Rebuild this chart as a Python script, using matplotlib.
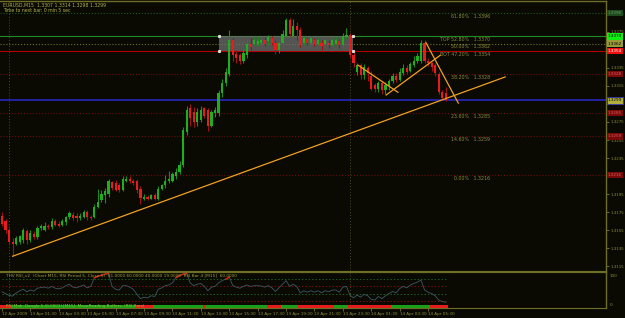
import matplotlib

matplotlib.use("Agg")
import matplotlib.pyplot as plt
import matplotlib.transforms as mtransforms
import numpy as np

# EURUSD M15, 12 Apr 23:30 -> 14 Apr 06:45
opens = [1.3171, 1.3165, 1.3155, 1.3142, 1.3140, 1.3142, 1.3144, 1.3154, 1.3144, 1.3151,
         1.3147, 1.3157, 1.3155, 1.3160, 1.3158, 1.3165, 1.3162, 1.3161, 1.3164, 1.3169,
         1.3172, 1.3171, 1.3168, 1.3170, 1.3175, 1.3170, 1.3170, 1.3181, 1.3188, 1.3194,
         1.3195, 1.3208, 1.3207, 1.3205, 1.3200, 1.3210, 1.3212, 1.3210, 1.3210, 1.3201,
         1.3190, 1.3192, 1.3190, 1.3194, 1.3190, 1.3201, 1.3205, 1.3209, 1.3210, 1.3215,
         1.3219, 1.3227, 1.3264, 1.3290, 1.3286, 1.3275, 1.3277, 1.3290, 1.3288, 1.3271,
         1.3285, 1.3285, 1.3307, 1.3318, 1.3328, 1.3366, 1.3350, 1.3349, 1.3343, 1.3349,
         1.3362, 1.3362, 1.3362, 1.3363, 1.3366, 1.3365, 1.3368, 1.3363, 1.3355, 1.3363,
         1.3371, 1.3388, 1.3371, 1.3382, 1.3377, 1.3363, 1.3367, 1.3363, 1.3366, 1.3362,
         1.3363, 1.3362, 1.3363, 1.3361, 1.3362, 1.3365, 1.3360, 1.3369, 1.3372, 1.3349,
         1.3330, 1.3338, 1.3327, 1.3335, 1.3326, 1.3316, 1.3312, 1.3318, 1.3310, 1.3315,
         1.3321, 1.3326, 1.3322, 1.3329, 1.3335, 1.3332, 1.3338, 1.3343, 1.3343, 1.3363,
         1.3343, 1.3340, 1.3338, 1.3328, 1.3308, 1.3307]
highs = [1.3175, 1.3167, 1.3157, 1.3146, 1.3148, 1.3150, 1.3157, 1.3156, 1.3155, 1.3154,
         1.3160, 1.3162, 1.3164, 1.3162, 1.3168, 1.3167, 1.3165, 1.3167, 1.3171, 1.3176,
         1.3175, 1.3174, 1.3174, 1.3177, 1.3177, 1.3172, 1.3184, 1.3201, 1.3199, 1.3202,
         1.3212, 1.3210, 1.3211, 1.3207, 1.3215, 1.3215, 1.3215, 1.3212, 1.3212, 1.3204,
         1.3195, 1.3194, 1.3195, 1.3196, 1.3204, 1.3206, 1.3216, 1.3221, 1.3219, 1.3224,
         1.3232, 1.3269, 1.3293, 1.3295, 1.3292, 1.3290, 1.3293, 1.3292, 1.3290, 1.3288,
         1.3292, 1.3310, 1.3323, 1.3335, 1.3377, 1.3368, 1.3355, 1.3352, 1.3357, 1.3366,
         1.3368, 1.3369, 1.3370, 1.3368, 1.3369, 1.3372, 1.3370, 1.3366, 1.3366, 1.3377,
         1.3390, 1.3390, 1.3389, 1.3386, 1.3380, 1.3370, 1.3369, 1.3370, 1.3368, 1.3368,
         1.3366, 1.3368, 1.3366, 1.3368, 1.3369, 1.3367, 1.3374, 1.3379, 1.3374, 1.3355,
         1.3341, 1.3341, 1.3339, 1.3337, 1.3332, 1.3318, 1.3321, 1.3321, 1.3319, 1.3323,
         1.3329, 1.3329, 1.3335, 1.3339, 1.3338, 1.3342, 1.3348, 1.3352, 1.3366, 1.3366,
         1.3346, 1.3342, 1.3341, 1.3330, 1.3310, 1.3314]
lows = [1.3160, 1.3152, 1.3140, 1.3126, 1.3138, 1.3140, 1.3141, 1.3140, 1.3142, 1.3145,
        1.3145, 1.3155, 1.3154, 1.3156, 1.3156, 1.3159, 1.3158, 1.3159, 1.3161, 1.3167,
        1.3166, 1.3164, 1.3166, 1.3168, 1.3166, 1.3166, 1.3168, 1.3179, 1.3186, 1.3185,
        1.3192, 1.3200, 1.3198, 1.3197, 1.3198, 1.3208, 1.3207, 1.3205, 1.3196, 1.3184,
        1.3188, 1.3188, 1.3189, 1.3188, 1.3188, 1.3199, 1.3202, 1.3207, 1.3208, 1.3212,
        1.3217, 1.3225, 1.3261, 1.3271, 1.3269, 1.3271, 1.3275, 1.3279, 1.3265, 1.3269,
        1.3281, 1.3282, 1.3303, 1.3315, 1.3326, 1.3343, 1.3341, 1.3339, 1.3341, 1.3346,
        1.3355, 1.3360, 1.3359, 1.3360, 1.3359, 1.3361, 1.3360, 1.3351, 1.3352, 1.3361,
        1.3369, 1.3371, 1.3368, 1.3366, 1.3358, 1.3360, 1.3360, 1.3361, 1.3359, 1.3360,
        1.3355, 1.3359, 1.3357, 1.3359, 1.3360, 1.3357, 1.3358, 1.3367, 1.3347, 1.3336,
        1.3327, 1.3323, 1.3323, 1.3321, 1.3311, 1.3308, 1.3308, 1.3306, 1.3306, 1.3310,
        1.3318, 1.3319, 1.3320, 1.3327, 1.3328, 1.3330, 1.3336, 1.3341, 1.3341, 1.3341,
        1.3337, 1.3332, 1.3326, 1.3306, 1.3299, 1.3298]
closes = [1.3162, 1.3155, 1.3142, 1.3140, 1.3146, 1.3148, 1.3155, 1.3144, 1.3152, 1.3147,
          1.3157, 1.3160, 1.3160, 1.3158, 1.3165, 1.3161, 1.3160, 1.3165, 1.3169, 1.3174,
          1.3168, 1.3168, 1.3171, 1.3175, 1.3169, 1.3168, 1.3181, 1.3186, 1.3195, 1.3198,
          1.3209, 1.3202, 1.3200, 1.3200, 1.3212, 1.3212, 1.3209, 1.3207, 1.3199, 1.3191,
          1.3192, 1.3190, 1.3194, 1.3190, 1.3201, 1.3205, 1.3210, 1.3212, 1.3217, 1.3220,
          1.3227, 1.3266, 1.3288, 1.3279, 1.3275, 1.3286, 1.3288, 1.3282, 1.3271, 1.3286,
          1.3288, 1.3307, 1.3318, 1.3330, 1.3366, 1.3349, 1.3346, 1.3343, 1.3352, 1.3362,
          1.3358, 1.3366, 1.3365, 1.3366, 1.3362, 1.3369, 1.3363, 1.3355, 1.3363, 1.3373,
          1.3388, 1.3373, 1.3382, 1.3377, 1.3360, 1.3368, 1.3363, 1.3368, 1.3362, 1.3366,
          1.3359, 1.3366, 1.3361, 1.3366, 1.3366, 1.3360, 1.3371, 1.3372, 1.3349, 1.3340,
          1.3338, 1.3327, 1.3336, 1.3329, 1.3312, 1.3312, 1.3318, 1.3310, 1.3316, 1.3321,
          1.3326, 1.3322, 1.3330, 1.3335, 1.3331, 1.3339, 1.3343, 1.3348, 1.3363, 1.3343,
          1.3340, 1.3336, 1.3329, 1.3308, 1.3302, 1.3299]

rsi = [45, 40, 35, 33, 42, 48, 52, 45, 50, 47, 55, 57, 58, 55, 60, 55, 53,
       56, 62, 66, 58, 56, 60, 64, 56, 60, 84, 88, 91, 94, 96, 60, 52, 50, 62, 62,
       58, 52, 38, 26, 30, 28, 34, 32, 52, 56, 62, 64, 70, 84, 90,
       94, 96, 70, 62, 66, 68, 60, 48, 58, 60, 70, 76, 80, 86,
       62, 58, 55, 60, 64, 60, 62, 62, 61, 58, 62, 56, 46, 56, 66,
       76, 60, 66, 60, 42, 48, 44, 48, 44, 48, 42, 48, 45,
       50, 50, 44, 58, 60, 36, 28, 36, 30, 38, 34, 24,
       22, 32, 26, 34, 40, 46, 42, 54, 60, 56, 64, 68, 72,
       78, 50, 44, 40, 34, 22, 18, 16]
rsi_levels = [81, 60, 40, 19]
rsi_level_colors = ["#1e5e1e", "#7a0c0c", "#1e5e1e", "#7a0c0c"]

# direction bar under the RSI: (colour, number of bars)
signal_runs = [("r", 3), ("g", 35), ("r", 5), ("g", 14), ("r", 1), ("g", 17), ("r", 4),
               ("g", 5), ("r", 10), ("g", 4), ("r", 12), ("g", 11), ("r", 5)]

# fibo levels
fib_names = ["61.80%", "TOP 52.80%", "50.00%", "BOT 47.20%", "38.20%", "23.60%", "14.60%", "0.00%"]
fib_prices = [1.3396, 1.3370, 1.3362, 1.3354, 1.3328, 1.3285, 1.3259, 1.3216]
fib_colors = ["#1e5a1e", "#1f8a1f", "#6e6e2a", "#b00000", "#6a0c0c", "#6a0c0c", "#6a0c0c", "#6a0c0c"]
fib_styles = [":", "-", ":", "-", ":", ":", ":", ":"]
tag_colors = ["#1e4a1e", "#10f010", "#9a9a3a", "#f01010", "#7a0a0a", "#7a0a0a", "#7a0a0a", "#7a0a0a"]
tag_text = ["#6a9a6a", "#000000", "#000000", "#ffffff", "#d06060", "#d06060", "#d06060", "#d06060"]

bid = 1.3299
box_bars = [61.1, 98.9]
box_prices = [1.3354, 1.3370]

# trend lines: (bar0, price0, bar1, price1)
trend_lines = [(3.0, 1.3126, 141.7, 1.3325),
               (100.3, 1.3338, 111.5, 1.3308),
               (108.2, 1.3305, 123.4, 1.3349),
               (119.4, 1.3363, 128.5, 1.3296)]

price_ticks = [1.3115, 1.3135, 1.3155, 1.3175, 1.3195, 1.3215, 1.3235, 1.3255,
               1.3275, 1.3295, 1.3315, 1.3335, 1.3355, 1.3375, 1.3395]
time_tick_bars = [0, 8, 16, 24, 32, 40, 48, 56, 64, 72, 80, 88, 96, 104, 112, 120]
time_labels = ["12 Apr 2009", "13 Apr 01:30", "13 Apr 03:30", "13 Apr 05:30", "13 Apr 07:30",
               "13 Apr 09:30", "13 Apr 11:30", "13 Apr 13:30", "13 Apr 15:30", "13 Apr 17:30",
               "13 Apr 19:30", "13 Apr 21:30", "13 Apr 23:30", "14 Apr 01:30", "14 Apr 03:30",
               "14 Apr 05:30"]
day_separators = [2, 98]

BG = "#0a0a02"
OLIVE = "#8e8e3a"
UP, DOWN = "#1fae1f", "#e81c1c"
UP_W, DOWN_W = "#1a8a1a", "#a01212"

fig = plt.figure(figsize=(6.25, 3.18), dpi=100, facecolor=BG)
ax = fig.add_axes([0, 1 - 271 / 318, 606 / 625, 270 / 318], facecolor=BG)
ax2 = fig.add_axes([0, 1 - 308 / 318, 606 / 625, 36 / 318], facecolor=BG, sharex=ax)

n = len(closes)
x = np.arange(n)
o = np.array(opens)
c = np.array(closes)
up = c >= o

# candles
ax.vlines(x, lows, highs, colors=[UP_W if u else DOWN_W for u in up], linewidth=0.8, zorder=3)
body_lo = np.minimum(o, c)
body_h = np.maximum(np.abs(c - o), 0.00005)
ax.bar(x, body_h, bottom=body_lo, width=0.62, color=[UP if u else DOWN for u in up],
       linewidth=0, zorder=4)

# fibo lines + labels
for name, p, col, ls in zip(fib_names, fib_prices, fib_colors, fib_styles):
    ax.axhline(p, color=col, linestyle=ls, linewidth=0.8, zorder=1)
    ax.text(137.5, p - 0.00008, f"{name}   {p:.4f}", color="#8a8a3a", fontsize=3.4,
            ha="right", va="top", zorder=5)

ax.axhline(bid, color="#2a2ad0", linewidth=1.1, zorder=2)

# range box
ax.fill_between(box_bars, box_prices[0], box_prices[1], color="#6e6e6e", alpha=0.75,
                linewidth=0, zorder=2)
for bx in box_bars:
    for by in box_prices:
        ax.plot(bx, by, "s", color="#dddddd", markersize=1.2, zorder=6)

for x0, y0, x1, y1 in trend_lines:
    ax.plot([x0, x1], [y0, y1], color="#f0a020", linewidth=0.9, zorder=5)

for d in day_separators:
    ax.axvline(d, color="#4e4e1e", linestyle=(0, (1, 2)), linewidth=0.7, zorder=1)
    ax2.axvline(d, color="#4e4e1e", linestyle=(0, (1, 2)), linewidth=0.7, zorder=1)

ax.set_xlim(-0.56, 170.1)
ax.set_ylim(1.31096, 1.34093)

ax.yaxis.tick_right()
ax.set_yticks(price_ticks)
ax.set_yticklabels([f"{t:.4f}" for t in price_ticks])
ax.tick_params(axis="y", labelsize=2.9, colors=OLIVE, length=2, width=0.5, pad=1)
ax.tick_params(axis="x", bottom=False, labelbottom=False)
for s in ["left", "bottom"]:
    ax.spines[s].set_visible(False)
for s in ["right", "top"]:
    ax.spines[s].set_color("#6e6e26")
    ax.spines[s].set_linewidth(1.0)

# price tags on the right scale
trans = mtransforms.blended_transform_factory(ax.transAxes, ax.transData)
for p, fc, tc in zip(fib_prices, tag_colors, tag_text):
    ax.text(1.003, p, f"{p:.4f}", transform=trans, fontsize=3.0, color=tc, ha="left",
            va="center", clip_on=False, zorder=7,
            bbox=dict(boxstyle="square,pad=0.3", fc=fc, ec="none"))
ax.text(1.003, bid, f"{bid:.4f}", transform=trans, fontsize=3.0, color="#000000", ha="left",
        va="center", clip_on=False, zorder=7,
        bbox=dict(boxstyle="square,pad=0.3", fc="#b0b040", ec="#2a2ad0", lw=0.5))

ax.text(0.005, 0.995, f"EURUSD,M15  {opens[-1]:.4f} {highs[-1]:.4f} {lows[-1]:.4f} {closes[-1]:.4f}",
        transform=ax.transAxes, fontsize=3.3, color="#b0b050", va="top", ha="left")
ax.text(0.005, 0.975, "Time to next bar: 0 min 5 sec", transform=ax.transAxes,
        fontsize=3.3, color="#b0b050", va="top", ha="left")

# ---- RSI subwindow ----
for lv, col in zip(rsi_levels, rsi_level_colors):
    ax2.hlines(lv, 0, n - 1, colors=col, linestyles=(0, (1.5, 2)), linewidth=0.7)
r = np.array(rsi, dtype=float)
ax2.plot(x, r, color="#3c5866", linewidth=0.6)
ax2.plot(x, np.where(r >= 80, r, np.nan), color="#e02010", linewidth=1.0)

sig_cols = []
for col, cnt in signal_runs:
    sig_cols += [DOWN if col == "r" else "#18a018"] * cnt
ax2.bar(x, 9, bottom=0, width=1.0, color=sig_cols, linewidth=0)
ax2.text(1, 4.5, "RSI Mak: Dangle 5 (0.0001) [M15]  MoveReading Buffers  (RSI Bars)",
         fontsize=3.0, color="#8ac03a", va="center", ha="left")
ax2.text(1, 90, "THV RSI_v2  (Chart M15, RSI Period 5, Close 5)  81.0000 60.0000 40.0000 "
         "19.0000  RSI Bar 4 [M15]  60.0000", fontsize=3.1, color="#9a9a40", va="center", ha="left")

ax2.set_ylim(0, 100)
ax2.set_yticks([])
ax2.text(1.006, 0.88, "100", transform=ax2.transAxes, fontsize=3.0, color=OLIVE, va="center")
ax2.text(1.006, 0.08, "0", transform=ax2.transAxes, fontsize=3.0, color=OLIVE, va="center")

ax2.set_xticks(time_tick_bars)
ax2.set_xticklabels(time_labels)
for lab in ax2.get_xticklabels():
    lab.set_ha("left")
ax2.tick_params(axis="x", labelsize=3.0, colors=OLIVE, length=2, width=0.5, pad=1)
for s in ["left"]:
    ax2.spines[s].set_visible(False)
for s in ["right", "top", "bottom"]:
    ax2.spines[s].set_color("#6e6e26")
ax2.spines["top"].set_linewidth(1.6)
ax2.spines["bottom"].set_linewidth(0.8)
ax2.spines["right"].set_linewidth(1.0)

fig.savefig("out.png", dpi=100, facecolor=BG)
